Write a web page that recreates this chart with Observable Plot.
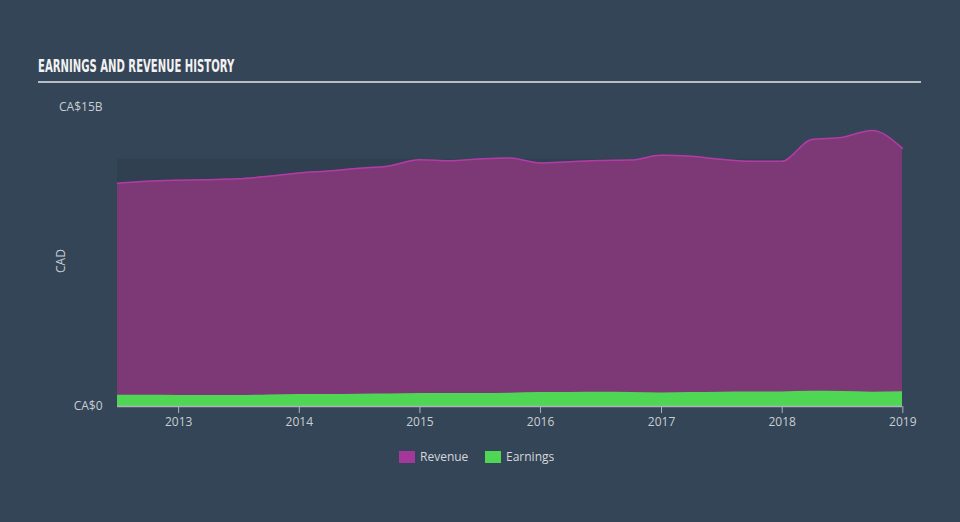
<!DOCTYPE html>
<html>
<head>
<meta charset="utf-8">
<script src="https://cdn.jsdelivr.net/npm/d3@7"></script>
<script src="https://cdn.jsdelivr.net/npm/@observablehq/plot@0.6"></script>
<style>
  html, body { margin: 0; padding: 0; background: #344557; }
  #wrap { position: relative; width: 960px; height: 522px; background: #344557; overflow: hidden; font-family: "Open Sans", Lato, sans-serif; }
  #title { position: absolute; left: 38px; top: 56px; color: #f2f2f2; font-family: "Liberation Sans Narrow", "DejaVu Sans Condensed", sans-serif; font-weight: bold; font-size: 17px; white-space: nowrap; transform: scaleX(0.66); transform-origin: left; }
  #rule { position: absolute; left: 38px; top: 81px; width: 883px; height: 2px; background: #b7bec6; }
  #chart { position: absolute; left: 0; top: 90px; }
  #legend { position: absolute; top: 448px; left: 0; width: 960px; height: 16px; font-size: 12px; color: #d4d8dc; }
  .item { position: absolute; top: 0; display: flex; align-items: center; }
  .sw { width: 16px; height: 12px; margin-right: 5px; }
</style>
</head>
<body>
<div id="wrap">
  <div id="title">EARNINGS AND REVENUE HISTORY</div>
  <div id="rule"></div>
  <div id="chart"></div>
  <div id="legend">
    <div class="item" style="left:399px"><div class="sw" style="background:#a3379a"></div>Revenue</div>
    <div class="item" style="left:485px"><div class="sw" style="background:#50d655"></div>Earnings</div>
  </div>
</div>
<script>
const dates = ["2012-06-30","2012-09-30","2012-12-31","2013-03-31","2013-06-30","2013-09-30","2013-12-31",
  "2014-03-31","2014-06-30","2014-09-30","2014-12-31","2015-03-31","2015-06-30","2015-09-30","2015-12-31",
  "2016-03-31","2016-06-30","2016-09-30","2016-12-31","2017-03-31","2017-06-30","2017-09-30","2017-12-31",
  "2018-03-31","2018-06-30","2018-09-30","2018-12-31"];
const revenue = [11.2,11.3,11.35,11.38,11.42,11.55,11.72,11.82,11.95,12.07,12.38,12.33,12.42,12.47,12.22,
  12.28,12.34,12.36,12.6,12.55,12.4,12.3,12.3,13.4,13.5,13.85,12.95];
const earnings = [0.57,0.56,0.55,0.55,0.55,0.58,0.6,0.6,0.62,0.63,0.65,0.65,0.65,0.66,0.7,
  0.7,0.71,0.7,0.68,0.7,0.72,0.73,0.73,0.76,0.75,0.72,0.74];
const yTicks = [0, 15];
const yTickLabels = ["CA$0", "CA$15B"];
const xTicks = ["2013","2014","2015","2016","2017","2018","2019"];
const shadeTop = 12.4;

const parse = d3.utcParse("%Y-%m-%d");
const data = dates.map((d, i) => ({date: parse(d), revenue: revenue[i], earnings: earnings[i]}));
const shade = [{x1: data[0].date, x2: data[data.length-1].date, y1: 0, y2: shadeTop}];

const chart = Plot.plot({
  width: 960,
  height: 340,
  marginLeft: 117,
  marginRight: 58,
  marginTop: 17,
  marginBottom: 24,
  style: {background: "transparent", color: "#c9ced3", fontFamily: "'Open Sans', Lato, sans-serif", fontSize: "12px"},
  x: {type: "utc", domain: [data[0].date, data[data.length-1].date]},
  y: {domain: [0, 15]},
  marks: [
    Plot.rect(shade, {x1: "x1", x2: "x2", y1: "y1", y2: "y2", fill: "#304051"}),
    Plot.areaY(data, {x: "date", y: "revenue", fill: "#7c3976", curve: "monotone-x"}),
    Plot.lineY(data, {x: "date", y: "revenue", stroke: "#b23ba6", strokeWidth: 1.5, curve: "monotone-x"}),
    Plot.areaY(data, {x: "date", y: "earnings", fill: "#50d655", curve: "monotone-x"}),
    Plot.ruleY([0], {stroke: "#aab3bc", strokeWidth: 1.5}),
    Plot.axisX(xTicks.map(t => d3.utcParse("%Y")(t)), {tickSize: 7, tickFormat: d3.utcFormat("%Y"), stroke: "#aab3bc", fill: "#c9ced3", tickPadding: 4, label: null}),
    Plot.axisY(yTicks, {tickSize: 0, tickPadding: 15, tickFormat: (d) => yTickLabels[yTicks.indexOf(d)], label: null, fill: "#c9ced3"}),
    Plot.text(["CAD"], {frameAnchor: "left", dx: -56, y: [6.7], rotate: -90, fill: "#c9ced3", fontSize: 12})
  ]
});
document.getElementById("chart").appendChild(chart);
</script>
</body>
</html>
